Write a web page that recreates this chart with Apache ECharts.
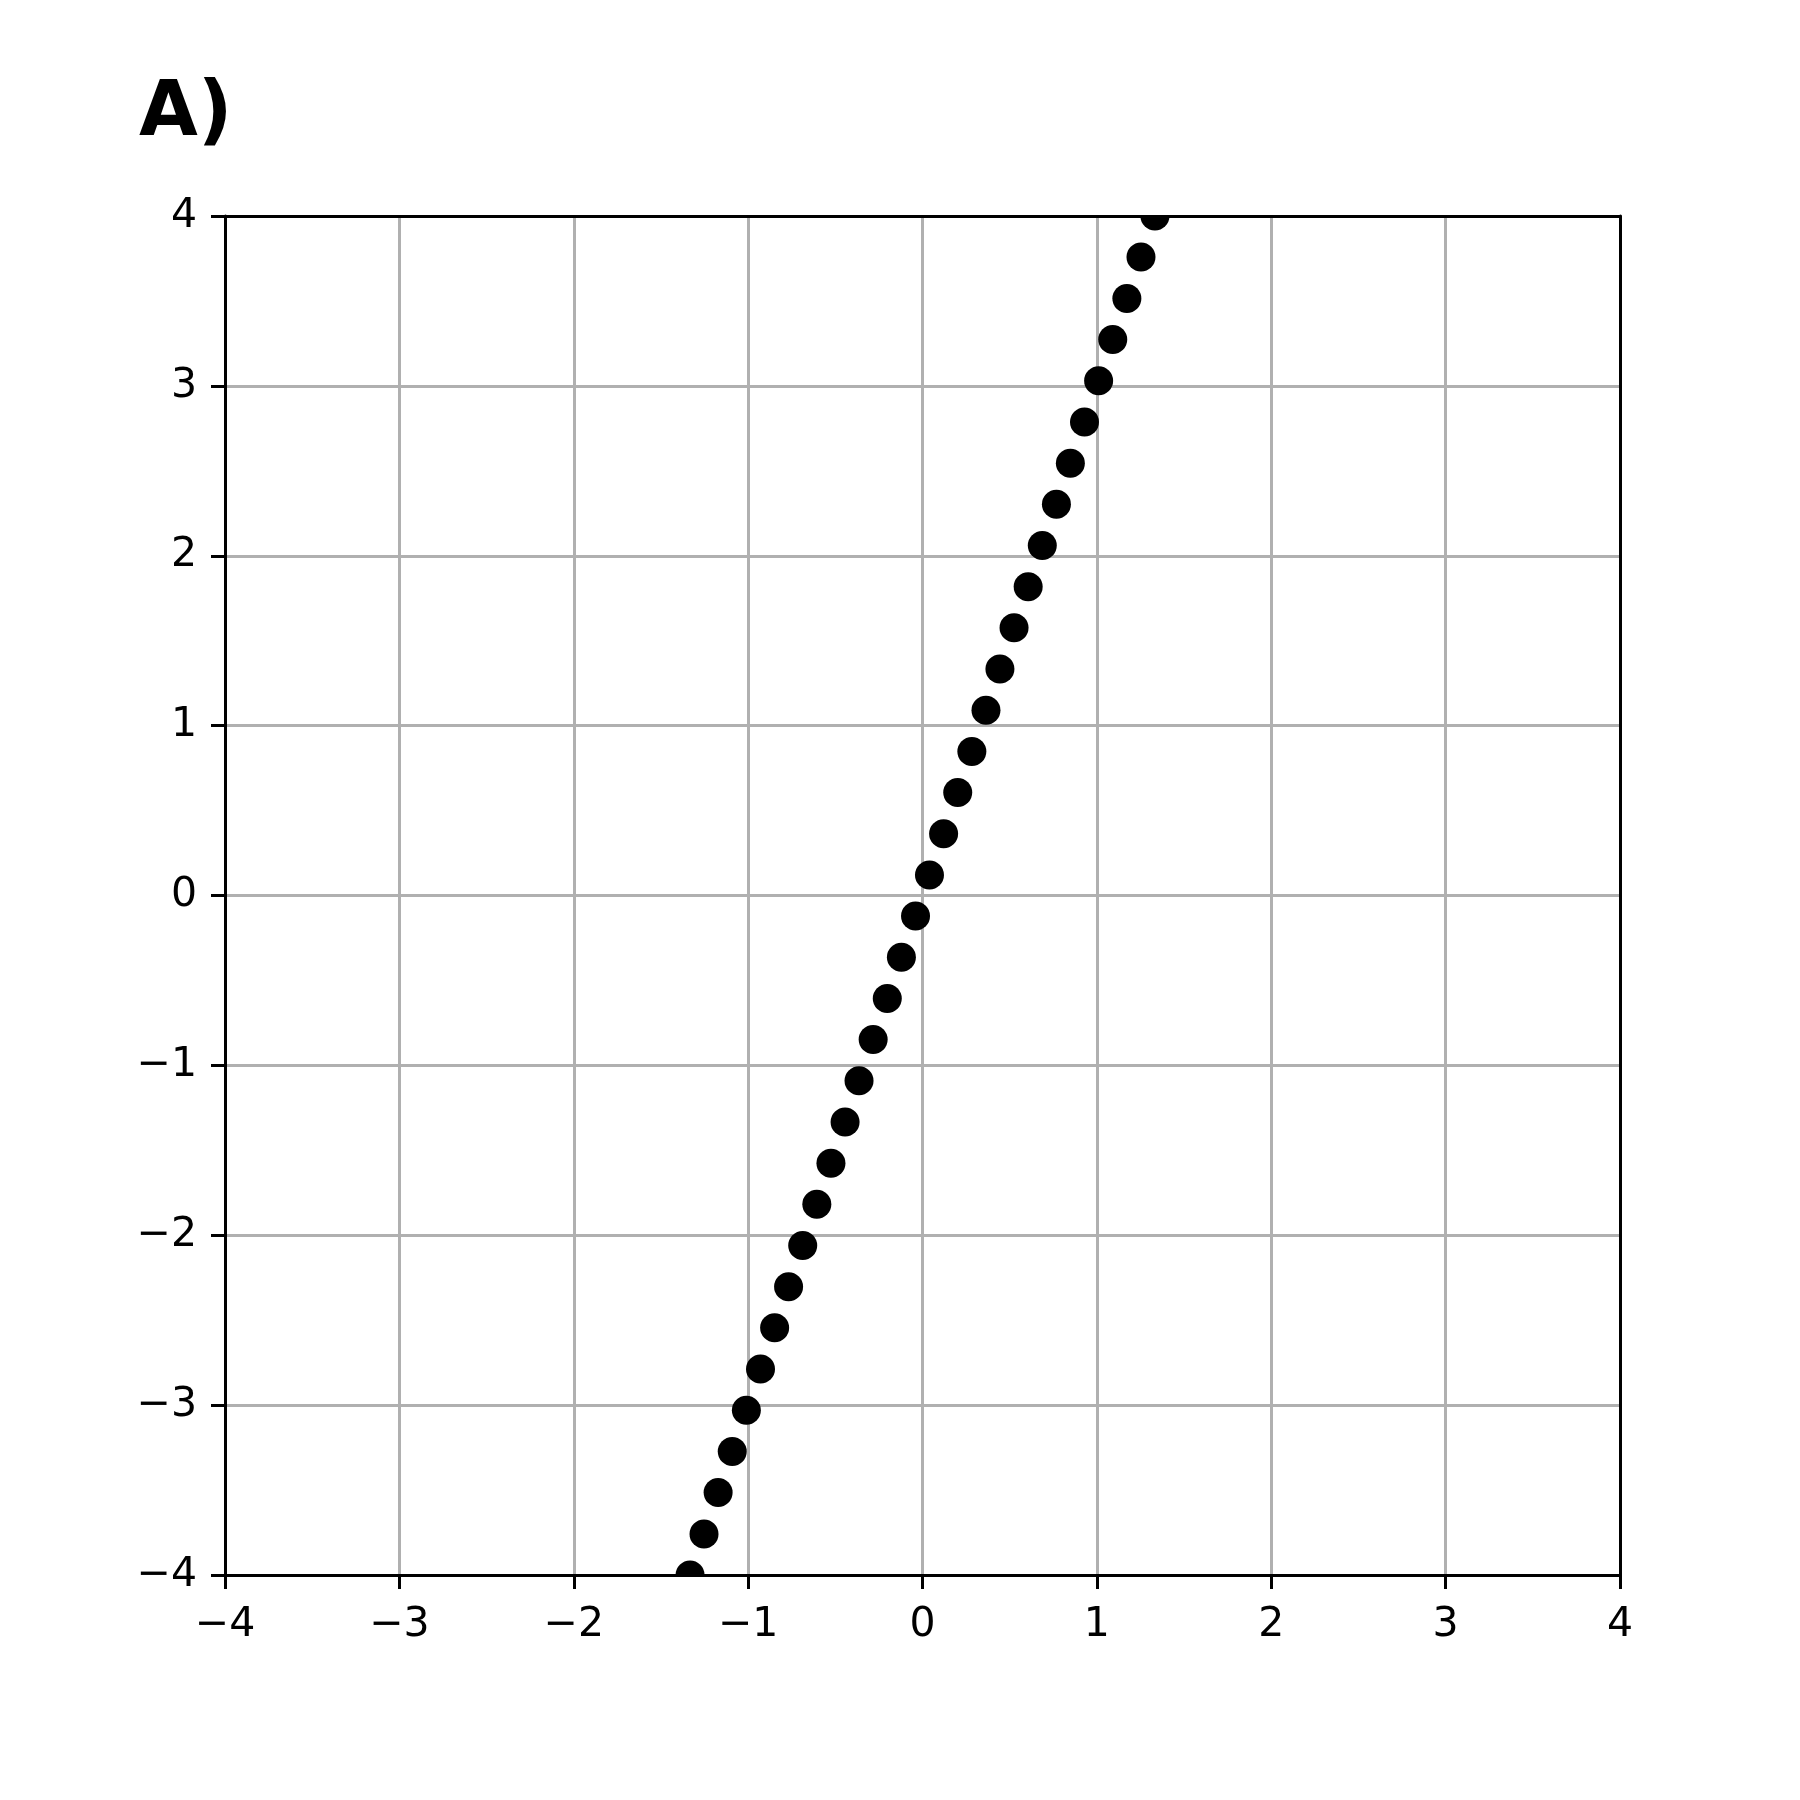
<!DOCTYPE html>
<html>
<head>
<meta charset="utf-8">
<script src="https://cdn.jsdelivr.net/npm/echarts@6/dist/echarts.min.js"></script>
<style>html,body{margin:0;padding:0;background:#fff}#c{width:1800px;height:1800px}</style>
</head>
<body>
<div id="c"></div>
<script>
var xValues = [-1.333, -1.253, -1.172, -1.091, -1.010, -0.929, -0.848, -0.768, -0.687, -0.606, -0.525, -0.444, -0.364, -0.283, -0.202, -0.121, -0.040, 0.040, 0.121, 0.202, 0.283, 0.364, 0.444, 0.525, 0.606, 0.687, 0.768, 0.848, 0.929, 1.010, 1.091, 1.172, 1.253, 1.333];
var yValues = [-4.000, -3.758, -3.515, -3.273, -3.030, -2.788, -2.545, -2.303, -2.061, -1.818, -1.576, -1.333, -1.091, -0.848, -0.606, -0.364, -0.121, 0.121, 0.364, 0.606, 0.848, 1.091, 1.333, 1.576, 1.818, 2.061, 2.303, 2.545, 2.788, 3.030, 3.273, 3.515, 3.758, 4.000];
var titleText = 'A)';

var pts = xValues.map(function (x, i) { return [x, yValues[i]]; });
var chart = echarts.init(document.getElementById('c'), null, {renderer: 'canvas'});
var FONT = 'DejaVu Sans';
function fmt(v) { return v < 0 ? '\u2212' + Math.abs(v) : String(v); }
function axis(pos, pad, margin) {
  return {
    type: 'value', min: -4, max: 4, interval: 1, position: pos,
    axisLine: {show: true, onZero: false, lineStyle: {color: '#000', width: 3}},
    axisTick: {show: true, inside: false, length: 14, lineStyle: {color: '#000', width: 3}},
    axisLabel: {show: true, margin: margin, padding: pad, color: '#000', fontFamily: FONT, fontSize: 41, formatter: fmt},
    splitLine: {show: true, lineStyle: {color: '#b0b0b0', width: 3}}
  };
}
function spine(pos) {
  return {
    type: 'value', min: -4, max: 4, interval: 1, position: pos, z: 5,
    axisLine: {show: true, onZero: false, lineStyle: {color: '#000', width: 3}},
    axisTick: {show: false}, axisLabel: {show: false}, splitLine: {show: false}
  };
}
chart.setOption({
  animation: false,
  backgroundColor: '#fff',
  title: {text: titleText, left: 134, top: 72, textStyle: {fontFamily: FONT, fontWeight: 'bold', fontSize: 76, color: '#000'}},
  grid: {left: 225, top: 216, width: 1395, height: 1359, show: false, containLabel: false},
  xAxis: [axis('bottom', [0, 0, 0, 0], 30), spine('top')],
  yAxis: [axis('left', [14, 0, 0, 0], 28), spine('right')],
  series: [{
    type: 'custom',
    clip: true,
    data: pts,
    encode: {x: 0, y: 1},
    renderItem: function (params, api) {
      var p = api.coord([api.value(0), api.value(1)]);
      return {type: 'circle', shape: {cx: p[0], cy: p[1], r: 14.5}, style: {fill: '#000'}};
    }
  }]
});
</script>
</body>
</html>
